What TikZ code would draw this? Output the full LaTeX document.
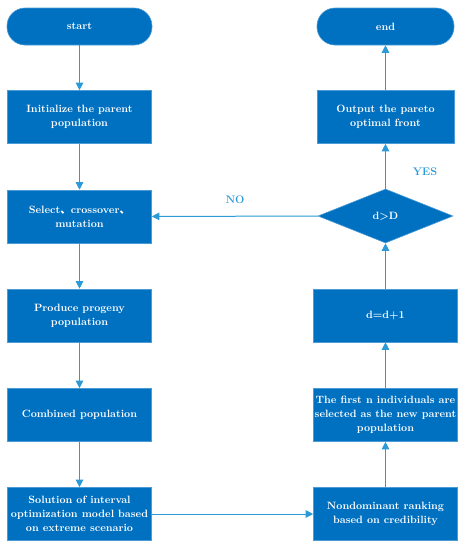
\documentclass[tikz,border=0pt]{standalone}
\usepackage{fontspec}
\usepackage{tikz}
\usetikzlibrary{positioning}
\usetikzlibrary{shapes.geometric}
\usepgflibrary{arrows.meta}
\newfontfamily\cjk{Noto Sans CJK SC}
\definecolor{boxblue}{HTML}{0070C0}
\definecolor{edgeblue}{HTML}{4A9BD6}
\definecolor{lineblue}{HTML}{2A9BD8}
\tikzset{
  procbox/.style={rectangle, fill=boxblue, draw=edgeblue, line width=0.6pt,
    minimum width=144pt, minimum height=53pt, text=white, align=center,
    inner sep=1pt, font=\bfseries\fontsize{10.6}{13.8}\selectfont},
  termbox/.style={procbox, rounded corners=18pt, minimum width=137pt, minimum height=37pt},
  decbox/.style={diamond, fill=boxblue, draw=edgeblue, line width=0.6pt,
    minimum width=135pt, minimum height=54pt, inner sep=0pt, text=white,
    font=\bfseries\fontsize{10.6}{13.8}\selectfont},
  flowarrow/.style={draw=lineblue, line width=1pt, -{Triangle[width=7.5pt,length=7.5pt]}},
  flowlabel/.style={text=lineblue, font=\bfseries\fontsize{11}{13.8}\selectfont}
}
\begin{document}
\begin{tikzpicture}[x=1pt,y=-1pt]
      \useasboundingbox (0,0) rectangle (468,550);

      % left column
      \node[termbox, minimum width=145pt] (start) at (79.5,26.5) {start};
      \node[procbox] (init) at (79.5,117) {Initialize the parent\\population};
      \node[procbox] (select) at (79.5,216.5) {Select{\cjk 、}crossover{\cjk 、}\\mutation};
      \node[procbox] (produce) at (79.5,315.5) {Produce progeny\\population};
      \node[procbox] (combined) at (79.5,415) {Combined population};
      \node[procbox] (solution) at (79.5,514) {Solution of interval\\optimization model based\\on extreme scenario};

      % right column
      \node[termbox] (end) at (385.5,26.5) {end};
      \node[procbox, minimum width=137pt] (output) at (385.5,117) {Output the pareto\\optimal front};
      \node[decbox] (check) at (385.5,216) {d>D};
      \node[procbox] (update) at (385.5,315.5) {d=d+1};
      \node[procbox] (firstn) at (385.5,415) {The first n individuals are\\selected as the new parent\\population};
      \node[procbox] (rank) at (385.5,514) {Nondominant ranking\\based on credibility};

      \draw[flowarrow] (start) -- (init);
      \draw[flowarrow] (init) -- (select);
      \draw[flowarrow] (select) -- (produce);
      \draw[flowarrow] (produce) -- (combined);
      \draw[flowarrow] (combined) -- (solution);
      \draw[flowarrow] (solution) -- (rank);
      \draw[flowarrow] (rank) -- (firstn);
      \draw[flowarrow] (firstn) -- (update);
      \draw[flowarrow] (update) -- (check);
      \draw[flowarrow] (check) -- (output);
      \draw[flowarrow] (output) -- (end);
      \draw[flowarrow] (check) -- (select);

      \node[flowlabel] (nolabel) at (235,200) {NO};
      \node[flowlabel] (yeslabel) at (425,172) {YES};
    \end{tikzpicture}
\end{document}
